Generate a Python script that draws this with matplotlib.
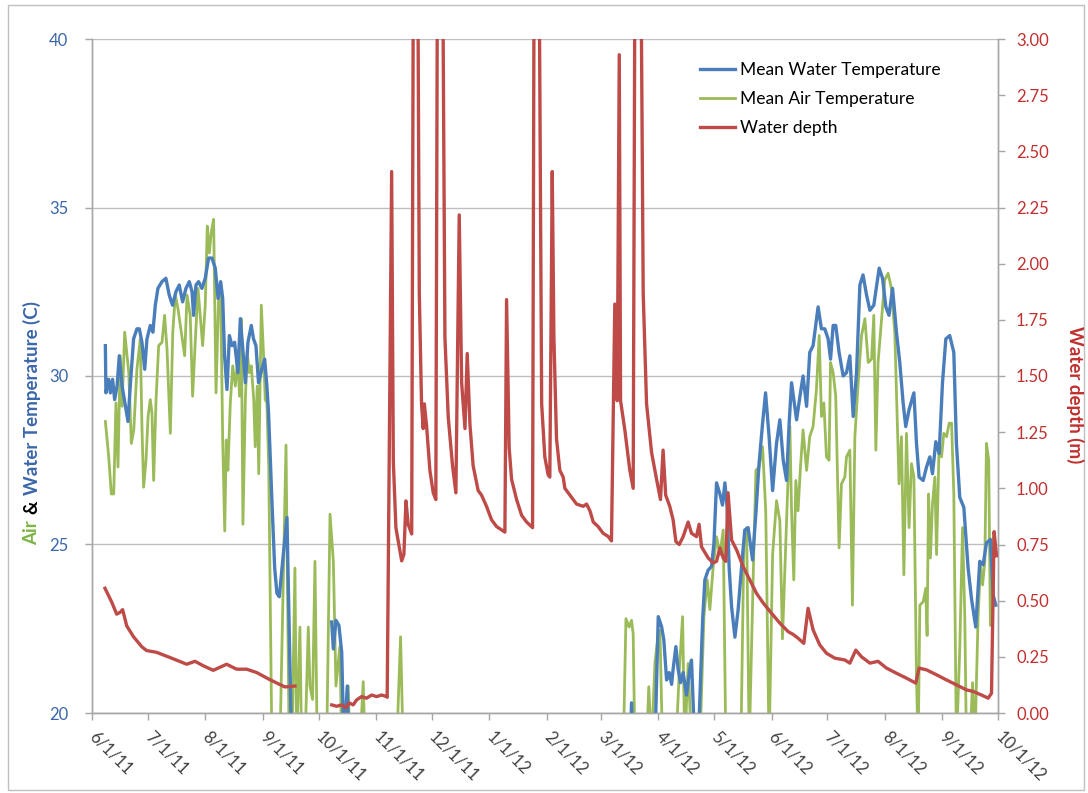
import numpy as np
import matplotlib
matplotlib.use("Agg")
import matplotlib.pyplot as plt
import matplotlib.dates as mdates
from matplotlib.patches import Rectangle
from datetime import datetime

plt.rcParams['font.family'] = ['Lato', 'DejaVu Sans']

# ---------------- data (day offsets from 2011-06-01) ----------------
START = datetime(2011, 6, 1)
LOW = 15.0  # below the 20 C axis minimum (not visible)
NAN = np.nan

water_days = [7.2, 7.5, 9, 9.9, 11.1, 12.2, 13.5, 14.7, 16.2, 18, 19.4, 20.6, 22.4, 24.2, 25.5, 26.9, 28.4,
              29.6, 31.4, 32.8, 34.1, 35.5, 37.7, 39.8, 41.6, 43.4, 45.2, 47, 48.8, 50.6, 52.4, 53.9, 54.7,
              56, 57.4, 59.2, 61, 62.8, 64.6, 66.4, 67.9, 69.3, 70.4, 71.4, 72.7, 74, 75.4, 76.8, 78.6, 79.9,
              81.1, 82.6, 84, 85.8, 87, 88.3, 89.7, 91.5, 93, 94.2, 95.1, 96.9, 98.4, 99.6, 100.9, 103.2,
              105, 107.5, 109, 119,
              129.1, 130, 131.4, 133, 134.5, 135.7, 137.5, 138.4, 140, 288, 289.5, 290.6, 291.5, 300, 303.2,
              305.0, 306.8, 308.0, 309.5, 310.9, 312.2, 313.0, 314.5, 315.7, 317.0, 318.4, 320.2, 322.0,
              322.9, 324.7, 326.5, 328.9, 330.1, 331.9, 333.7, 335.0, 336.4, 338.2, 339.6, 340.9, 342.1,
              343.2, 344.5, 346.3, 348.0, 349.9, 351.6, 353.4, 355.8, 357.6, 359.3, 361.2, 362.8, 364.7,
              366.6, 368.7, 370.5, 372.3, 374.1, 375.5, 376.8, 379.5, 381.6, 383.0, 384.9, 386.6, 388.4,
              391.1, 392.9, 394.7, 396.5, 397.8, 399.2, 400.6, 402.4, 404.6, 406.4, 408.2, 410.0, 411.8,
              413.6, 415.3, 417.2, 419.0, 421.1, 424.0, 425.8, 427.6, 429.3, 431.2, 433.3, 435.1, 436.9,
              438.3, 440.1, 442.7, 444.1, 445.5, 447.7, 449.5, 451.3, 452.7, 454.5, 456.3, 458.1, 459.9,
              462.0, 464.2, 465.6, 467.4, 469.6, 471.9, 473.7, 476.0, 478.2, 480.0, 481.8, 483.9, 485.4,
              486.8]
water_temp = [30.9, 29.5, 29.9, 29.5, 29.9, 29.3, 29.7, 30.6, 29.7, 29.1, 28.65, 29.7, 31.1, 31.4, 31.4, 31.0,
              30.2, 31.1, 31.5, 31.3, 32.1, 32.6, 32.8, 32.9, 32.4, 32.1, 32.5, 32.7, 32.2, 32.6, 32.8, 32.5,
              31.8, 32.7, 32.8, 32.6, 32.9, 33.5, 33.5, 33.2, 32.3, 32.8, 32.3, 30.6, 29.6, 31.2, 30.9, 31.0,
              30.1, 31.7, 30.9, 29.8, 31.0, 31.5, 31.1, 30.9, 29.8, 30.2, 30.5, 29.7, 28.9, 26.3, 24.3, 23.55,
              23.45, 24.8, 25.8, 19.0, LOW, NAN,
              22.7, 21.9, 22.75, 22.6, 21.8, 19.0, 20.8, 19.0, LOW, LOW, 18.0, 20.3, 18.0, LOW, 19.0,
              22.86, 22.56, 22.17, 20.98, 21.2, 20.85, 21.3, 21.97, 21.3, 20.9, 21.2, 20.53, 21.3, 21.57,
              19.0, 19.0, 22.76, 23.95, 24.24, 24.35, 25.04, 26.83, 26.5, 26.17, 26.83, 26.1, 24.3, 23.15,
              22.25, 23.05, 24.35, 25.43, 25.5, 24.54, 25.93, 27.4, 28.6, 29.5, 28.2, 26.6, 28.0, 28.7, 27.5,
              26.9, 28.6, 29.8, 28.7, 29.5, 30.0, 29.1, 30.7, 30.9, 32.05, 31.4, 31.4, 31.1, 30.5, 31.5, 31.5,
              30.7, 30.0, 30.1, 30.6, 28.8, 30.1, 32.7, 33.0, 32.4, 31.95, 32.1, 33.2, 32.9, 32.05, 31.8, 32.6,
              31.3, 30.4, 29.2, 28.5, 29.0, 29.5, 28.0, 27.0, 26.9, 27.3, 27.6, 27.1, 28.05, 27.7, 29.8, 31.1,
              31.2, 30.7, 28.0, 26.4, 26.1, 24.3, 23.4, 22.55, 24.5, 24.4, 25.05, 25.15, 23.5, 23.2]

air_days = [7.2, 9.0, 10.4, 11.7, 12.9, 14.0, 15.2, 16.2, 17.6, 19.8, 21.2, 22.5, 24.2, 26.0, 26.9, 27.8,
            29.1, 30.2, 31.4, 32.3, 33.2, 34.5, 35.9, 37.7, 39.1, 40.4, 42.2, 43.5, 44.9, 46.3, 48.1, 49.9,
            51.2, 52.9, 54.2, 55.6, 57.1, 58.3, 59.6, 61.0, 62.1, 63.2, 64.2, 65.5, 66.8, 68.2, 69.3, 70.4,
            71.5, 72.3, 73.2, 74.5, 75.8, 77.2, 78.5, 79.5, 80.4, 81.3, 82.6, 83.6, 84.7, 85.8, 87.1, 87.9,
            89.0, 89.8, 91.2, 92.5, 93.3, 94.2, 95.2, 96.9, 98.5, 101.4, 104.5, 106.2, 107.7, 109.3, 110.2,
            112.0, 112.9, 114.7, 116.5, 117.4, 118.8, 120.1, 121.3, 126.4, 128.2, 130.0, 131.4, 133.5,
            134.5, 136.8, 138.0, 138.9, 144.3, 146.1, 147.0, 164.1, 166.2, 167.6, 170, 285, 286.2, 287.6,
            289.3, 290.6, 291.5, 292.4, 298.7, 299.9, 301.4, 303.2, 305.0, 305.9, 307.3, 314.5, 316.3,
            318.1, 319.3, 321.1, 322.9, 327.4, 329.6, 331.4, 332.8, 334.6, 336.4, 338.2, 340.0, 341.4,
            349.5, 351.1, 352.6, 354.0, 356.1, 357.6, 359.3, 361.2, 362.9, 364.7, 366.6, 368.7, 370.5,
            371.9, 374.1, 375.9, 376.8, 378.0, 379.1, 380.3, 381.6, 383.0, 384.9, 386.6, 388.4, 390.2,
            391.7, 392.9, 394.2, 395.6, 397.0, 397.8, 399.2, 400.6, 402.4, 403.7, 405.5, 406.4, 408.2,
            409.6, 410.9, 412.7, 414.5, 416.3, 418.1, 419.9, 421.1, 422.2, 423.4, 425.3, 427.0, 428.8,
            430.6, 432.4, 433.7, 434.7, 436.0, 437.3, 438.7, 440.1, 441.4, 442.7, 444.1, 445.0, 445.9,
            447.7, 449.1, 449.8, 450.6, 451.6, 452.7, 454.0, 454.9, 456.3, 457.6, 458.8, 460.3, 461.7,
            463.0, 464.2, 465.6, 467.4, 468.9, 470.1, 471.0, 472.8, 474.3, 475.5, 477.3, 478.6, 479.7,
            480.9, 481.8, 483.0, 483.9, 485.4, 486.8]
air_temp = [28.65, 27.6, 26.5, 26.5, 29.2, 27.3, 30.6, 29.1, 31.3, 30.1, 28.0, 28.4, 30.2, 31.1, 28.5, 26.7,
            27.5, 28.8, 29.3, 28.9, 26.9, 29.3, 30.9, 31.0, 31.8, 30.8, 28.3, 31.3, 32.4, 32.0, 31.3, 30.6,
            32.4, 31.8, 29.4, 31.0, 32.6, 31.8, 30.9, 32.1, 34.45, 33.65, 34.25, 34.65, 29.5, 32.3, 32.5, 28.1,
            25.4, 28.1, 27.2, 29.2, 30.3, 29.7, 30.5, 29.4, 31.7, 25.6, 29.3, 30.7, 30.1, 30.3, 29.3, 27.9,
            29.7, 27.1, 32.1, 30.5, 29.3, 29.2, 27.3, 19.0, 19.0, 19.5, 27.95, 19.0, 19.0, 24.3, 19.0,
            22.55, 19.0, 19.0, 22.55, 20.8, 20.4, 24.5, 19.0, 19.0, 25.9, 24.5, 20.8, 21.97,
            19.0, 19.0, 20.8, 19.0, 19.0, 20.93, 19.0, 19.0, 22.26, 19.0, LOW, LOW, 19.0, 22.8,
            22.55, 22.75, 22.35, 19.0, 19.0, 20.78, 19.0, 21.47, 22.35, 22.45, 19.0, 19.0, 21.2,
            22.86, 19.0, 21.47, 19.0, 19.0, 22.86, 23.95, 23.07, 24.35, 25.23, 24.7, 25.43, 19.0,
            19.0, 24.94, 25.5, 19.0, 23.95, 27.2, 27.3, 27.9, 26.0, 19.0, 24.7, 26.3, 25.7,
            22.2, 25.7, 28.5, 26.0, 23.95, 26.9, 26.0, 27.3, 28.4, 27.2, 28.2, 28.5, 29.6,
            31.2, 28.8, 29.2, 27.6, 27.5, 30.4, 30.1, 29.4, 24.9, 26.8, 27.0, 27.6, 27.8,
            23.2, 28.2, 29.8, 31.2, 31.7, 30.4, 30.5, 31.8, 27.8, 30.4, 31.7, 32.85, 33.05,
            32.6, 31.3, 28.8, 26.8, 28.2, 24.1, 28.3, 25.5, 27.4, 27.0, 21.0, 19.0, 23.2,
            23.3, 23.7, 22.3, 26.5, 24.6, 26.2, 27.0, 24.7, 28.0, 27.6, 28.3, 28.2, 28.6,
            28.6, 26.5, 19.0, 21.9, 25.5, 22.9, 19.0, 19.0, 20.9, 19.0, 22.9, 24.4, 23.8,
            24.5, 28.0, 27.5, 22.6, 25.2, 24.8]

depth_days = [7.0, 10.6, 13.3, 15.1, 16.5, 18.7, 22.3, 26.8, 29.4, 34.8, 42.0, 51.0, 55.5, 60.0, 65.3, 68.0,
              72.5, 77.9, 83.3, 88.7, 95.9, 103.9, 109.3, 119,
              129.1, 131.8, 134.5, 136.8, 138.6, 140.7, 142.5, 145.2, 147.9, 150.6, 153.3, 156.0, 158.7,
              159.0, 161.4, 162.3, 163.7, 166.8, 168, 169.1, 170.3, 172.2, 174.0, 176.3, 177.5, 178.4, 179,
              180.2, 182, 183.8, 185.2, 187.0, 190.1, 191.9, 194.2, 196, 197.8, 199.1, 200.9, 202.1, 203.6,
              205.3, 208.0, 209.8, 212.5, 215.2, 217.9, 220.6, 222.4, 223.3, 224.7, 226.0, 228.7, 231.4,
              234.1, 237.3, 239.0, 242.2, 243.9, 245.7, 246.6, 247.9, 248.8, 250.2, 252.0, 253.8, 254.7,
              257.4, 261.0, 264.6, 266.4, 268.2, 270.0, 272.6, 275.3, 278.0, 279.8, 281.6, 282.9, 284.0,
              284.7, 287.0, 289.7, 291.5, 293.5, 296.9, 298.7, 301.4, 304.1, 306.2, 307.6, 309.0, 311.2,
              313.0, 314.5, 316.3, 318.4, 321.1, 322.9, 325.6, 327.0, 328.3, 331.9, 334.6, 336.4, 338.2,
              340.0, 341.4, 342.6, 344.5, 347.2, 350.7, 354.3, 357.9, 361.5, 366.0, 370.5, 375.0, 377.6,
              380.3, 383.4, 385.7, 388.4, 392.0, 395.6, 400.1, 405.5, 408.2, 411.4, 414.5, 419.0, 423.4,
              427.9, 433.3, 438.7, 443.7, 445.5, 449.5, 454.9, 460.3, 465.6, 471.0, 474.6, 479.1, 482.7,
              484.5, 485.9, 487.2]
depth_m = [0.555, 0.494, 0.44, 0.448, 0.46, 0.388, 0.34, 0.295, 0.278, 0.27, 0.247, 0.217, 0.23, 0.21, 0.19,
           0.20, 0.217, 0.195, 0.195, 0.18, 0.148, 0.116, 0.12, NAN,
           0.036, 0.03, 0.036, 0.023, 0.045, 0.036, 0.058, 0.073, 0.066, 0.08, 0.073, 0.08, 0.073,
           0.07, 2.41, 1.12, 0.824, 0.677, 0.706, 0.944, 0.84, 0.797, 6.0, 1.865, 1.376, 1.266, 1.376,
           1.28, 1.08, 0.98, 0.95, 6.0, 1.67, 1.315, 1.1, 0.98, 2.217, 1.47, 1.266, 1.6, 1.28,
           1.1, 0.99, 0.97, 0.92, 0.86, 0.83, 0.815, 0.805, 1.84, 1.18, 1.04, 0.95, 0.88,
           0.85, 0.825, 6.0, 1.376, 1.14, 1.06, 1.05, 2.41, 1.67, 1.22, 1.08, 1.05, 1.0,
           0.97, 0.93, 0.92, 0.93, 0.90, 0.85, 0.83, 0.80, 0.786, 0.766, 1.82, 1.39, 2.93,
           1.39, 1.26, 1.08, 1.0, 6.0, 1.865, 1.376, 1.16, 1.04, 0.95, 1.17, 0.97, 0.92,
           0.86, 0.763, 0.75, 0.785, 0.85, 0.80, 0.785, 0.84, 0.74, 0.69, 0.668, 0.675, 0.735,
           0.69, 0.675, 0.98, 0.77, 0.726, 0.652, 0.593, 0.533, 0.49, 0.444, 0.40, 0.362, 0.35,
           0.333, 0.31, 0.466, 0.37, 0.303, 0.266, 0.244, 0.236, 0.222, 0.28, 0.25, 0.222, 0.23,
           0.2, 0.177, 0.155, 0.133, 0.2, 0.192, 0.17, 0.147, 0.125, 0.103, 0.096, 0.08, 0.066,
           0.088, 0.807, 0.70]

month_ticks = [datetime(2011, m, 1) for m in range(6, 13)] + [datetime(2012, m, 1) for m in range(1, 11)]
month_labels = ['6/1/11', '7/1/11', '8/1/11', '9/1/11', '10/1/11', '11/1/11', '12/1/11', '1/1/12',
                '2/1/12', '3/1/12', '4/1/12', '5/1/12', '6/1/12', '7/1/12', '8/1/12', '9/1/12', '10/1/12']
temp_ticks = [20, 25, 30, 35, 40]
depth_ticks = [0.0, 0.25, 0.5, 0.75, 1.0, 1.25, 1.5, 1.75, 2.0, 2.25, 2.5, 2.75, 3.0]

# ---------------- styling ----------------
BLUE = '#4A7EBB'
GREEN = '#9BBB59'
RED = '#BE4B48'
BLUE_TXT = '#3B67AA'
RED_TXT = '#C0302F'
GRID = '#BFBFBF'
AXC = '#A6A6A6'

W, H = 1088, 793
fig = plt.figure(figsize=(W / 100, H / 100), dpi=100)
ax = fig.add_axes([92 / W, 1 - 713 / H, (998 - 92) / W, (713 - 39) / H])
ax2 = ax.twinx()

base = mdates.date2num(START)
wx = base + np.array(water_days)
axx = base + np.array(air_days)
dx = base + np.array(depth_days)

l_air, = ax.plot(axx, air_temp, color=GREEN, lw=2.0, label='Mean Air Temperature', zorder=2)
l_water, = ax.plot(wx, water_temp, color=BLUE, lw=2.4, label='Mean Water Temperature', zorder=3)
l_depth, = ax2.plot(dx, depth_m, color=RED, lw=2.4, label='Water depth', zorder=3)

ax.set_xlim(mdates.date2num(datetime(2011, 6, 1)), mdates.date2num(datetime(2012, 10, 1)))
ax.set_ylim(20, 40)
ax2.set_ylim(0, 3.0)

ax.set_yticks(temp_ticks)
ax.set_yticklabels([str(t) for t in temp_ticks])
ax2.set_yticks(depth_ticks)
ax2.set_yticklabels([f'{d:.2f}' for d in depth_ticks])
ax.set_xticks(mdates.date2num(month_ticks))
ax.set_xticklabels(month_labels, rotation=-45, ha='left', va='center', rotation_mode='anchor')

ax.grid(axis='y', color=GRID, lw=1.0)
ax.set_axisbelow(True)

for a in (ax, ax2):
    for s in a.spines.values():
        s.set_color(AXC)
        s.set_linewidth(1.0)
    a.spines['top'].set_visible(False)

ax.tick_params(axis='y', colors=AXC, labelcolor=BLUE_TXT, labelsize=12, length=5, width=1, pad=12)
ax.tick_params(axis='x', colors=AXC, labelcolor='#404040', labelsize=12, length=5, width=1, pad=10)
ax2.tick_params(axis='y', colors=AXC, labelcolor=RED_TXT, labelsize=12, length=5, width=1, pad=8)

# multi-coloured left axis label
fig.canvas.draw()
renderer = fig.canvas.get_renderer()
lab_fs = 13.5
y_cur = 1 - 545 / H
for txt, col in [('Air', '#7DB544'), ('&', 'black'), ('Water Temperature (C)', BLUE_TXT)]:
    t = fig.text(32 / W, y_cur, txt, rotation=90, ha='center', va='bottom', color=col,
                 fontsize=lab_fs, fontweight='bold')
    bb = t.get_window_extent(renderer)
    y_cur += (bb.height + 6) / H

fig.text(1075 / W, 1 - 395 / H, 'Water depth (m)', rotation=270, ha='center', va='center',
         color=RED_TXT, fontsize=lab_fs, fontweight='bold')

leg = fig.legend(handles=[l_water, l_air, l_depth], loc='upper left',
                 bbox_to_anchor=(693 / W, 1 - 55 / H), frameon=False, fontsize=12.5,
                 handlelength=2.0, handletextpad=0.3, labelspacing=0.75, borderaxespad=0)

fig.patches.append(Rectangle((8 / W, 3 / H), (1084 - 8) / W, (788 - 3) / H,
                             transform=fig.transFigure, fill=False, edgecolor='#BFBFBF', lw=1.0))

fig.savefig('out.png', dpi=100)
